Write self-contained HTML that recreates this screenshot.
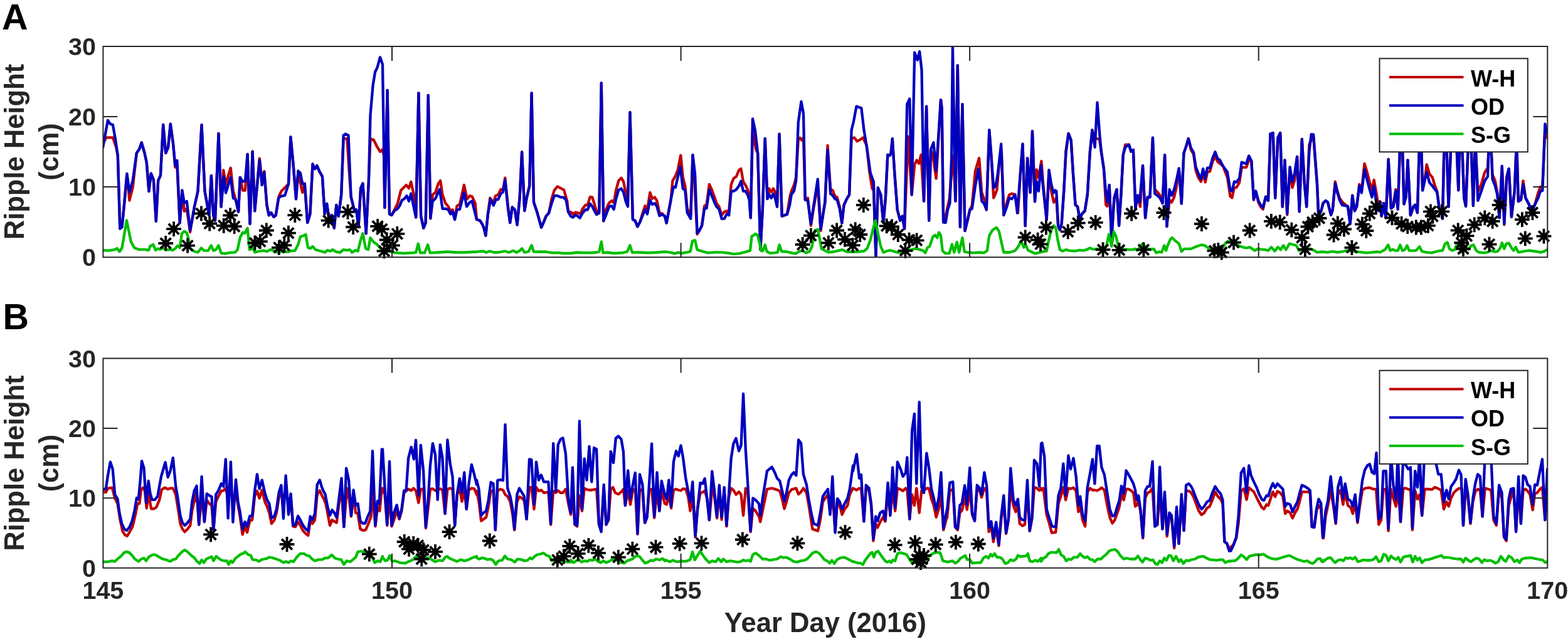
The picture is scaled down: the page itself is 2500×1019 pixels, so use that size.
<!DOCTYPE html>
<html><head><meta charset="utf-8"><title>Ripple Height</title>
<style>html,body{margin:0;padding:0;background:#fff;width:2500px;height:1019px;overflow:hidden}svg{display:block}</style>
</head><body>
<svg width="2500" height="1019" viewBox="0 0 2500 1019" font-family="'Liberation Sans', Arial, Helvetica, sans-serif" font-weight="bold">
<rect width="2500" height="1019" fill="#fff"/>
<clipPath id="cA"><rect x="164.4" y="74.0" width="2302.9" height="336.2"/></clipPath>
<g clip-path="url(#cA)" fill="none" stroke-width="4.3" stroke-linejoin="round" stroke-linecap="round">
<polyline stroke="#bf0000" points="164.0,229.5 169.3,219.4 179.9,219.4 185.2,234.8 187.8,248.1 191.3,364.7 194.5,362.0 198.4,322.3 202.4,277.2 206.4,319.6 211.7,298.4 217.8,244.1 222.3,237.5 225.7,227.4 230.2,242.8 233.7,258.7 237.4,305.0 240.8,276.7 244.8,286.5 248.8,352.8 252.2,287.8 255.9,279.9 260.2,199.0 264.2,244.1 268.1,234.8 271.8,197.7 276.1,229.5 279.3,266.6 282.4,266.6 286.7,355.4 290.4,303.7 293.8,336.9 297.8,332.9 303.1,370.0 310.0,329.6 315.5,304.8 321.5,199.1 326.5,304.8 333.4,343.3 336.9,280.1 340.2,343.3 343.0,351.5 348.5,212.8 352.6,329.6 356.2,271.3 360.0,293.8 367.7,267.7 371.8,304.8 375.9,318.6 380.1,337.8 382.8,282.9 386.9,303.5 391.0,303.5 394.6,245.8 398.5,357.0 402.6,241.6 406.2,336.4 413.8,252.6 417.7,288.4 421.3,273.2 425.4,326.8 428.7,343.3 432.3,339.2 436.4,346.0 439.7,343.3 444.6,313.1 448.7,304.8 454.2,299.3 460.0,293.3 463.4,218.4 467.6,262.4 472.0,317.3 475.5,272.7 477.2,284.7 482.3,307.0 485.8,293.3 490.2,355.1 494.4,341.4 498.5,261.7 501.9,269.2 505.3,264.1 509.8,274.4 513.9,281.3 517.7,341.4 521.1,324.9 524.6,348.3 528.7,343.1 532.8,363.7 536.3,327.0 539.7,344.8 544.2,310.5 547.6,221.2 553.4,221.2 556.9,276.1 559.6,313.9 564.8,334.5 568.2,334.5 571.6,362.0 575.1,300.2 578.5,292.6 583.7,372.3 587.8,289.9 590.5,221.2 595.7,222.9 600.8,233.2 606.0,241.8 610.0,238.3 612.1,248.6 613.4,331.1 617.6,143.9 621.0,341.4 624.4,343.1 628.9,334.5 634.0,324.2 639.2,303.6 644.4,298.4 647.8,295.0 651.9,300.2 655.3,289.9 659.8,310.5 663.2,346.5 667.4,148.3 671.1,344.8 675.3,363.7 678.7,355.1 682.8,151.8 686.3,348.3 689.7,310.5 694.2,307.0 698.6,293.3 702.1,288.1 705.5,310.5 710.3,324.2 714.8,329.4 718.2,336.2 721.6,334.5 725.1,350.0 728.5,328.3 733.0,325.9 739.9,295.0 744.7,317.3 749.1,312.2 752.6,313.2 757.7,324.2 760.0,350.0 765.2,351.7 769.6,358.6 772.0,365.4 774.4,375.7 777.9,341.4 781.3,315.6 785.8,324.2 790.2,312.2 794.4,310.5 798.5,301.9 801.9,303.6 805.3,283.7 809.8,327.6 813.2,355.1 816.7,330.4 820.8,334.5 824.6,358.6 828.7,313.9 832.1,242.4 836.3,336.2 839.7,315.6 844.2,296.7 847.6,148.3 851.0,322.5 856.2,337.9 863.1,362.7 867.2,353.4 870.6,344.8 875.1,339.7 879.5,317.3 883.7,303.6 888.8,297.4 894.0,300.2 899.1,302.9 904.3,320.8 906.0,337.9 910.0,337.9 913.4,341.4 917.6,338.6 922.0,339.7 925.5,341.4 928.9,332.8 933.4,327.0 936.8,327.0 940.9,313.9 944.4,314.6 947.8,325.9 951.2,337.3 955.3,336.2 958.8,132.5 962.2,352.4 966.7,332.8 971.1,323.5 975.3,320.1 978.7,323.5 982.1,303.6 986.3,288.1 990.7,283.7 994.2,289.9 997.6,307.0 1001.0,320.8 1004.5,179.2 1008.9,350.0 1012.4,351.7 1016.5,361.3 1020.6,353.4 1024.1,341.4 1028.5,328.3 1032.0,334.5 1036.4,307.0 1039.9,316.7 1044.0,314.6 1047.4,320.1 1051.5,339.7 1056.0,340.7 1060.0,344.7 1062.7,355.7 1066.0,337.8 1069.6,318.6 1072.4,288.4 1076.5,281.5 1080.6,271.3 1085.3,247.7 1088.8,282.9 1092.4,296.6 1095.7,332.3 1101.2,344.7 1104.5,247.1 1106.7,278.7 1111.6,373.5 1114.9,368.0 1119.1,359.8 1123.2,328.2 1126.5,326.8 1130.9,293.8 1134.7,302.1 1139.7,315.8 1142.4,324.1 1146.5,329.6 1150.7,343.3 1154.8,337.8 1158.9,336.4 1162.2,337.8 1165.8,293.8 1169.9,284.2 1174.0,281.5 1178.1,271.3 1181.4,269.1 1185.0,289.7 1188.6,295.2 1191.9,302.1 1194.6,311.7 1196.8,347.4 1200.0,208.7 1202.7,223.8 1205.5,238.9 1208.2,244.4 1212.4,398.2 1215.9,332.3 1219.8,221.0 1223.4,317.2 1226.1,300.7 1229.7,306.2 1233.0,300.7 1235.7,306.2 1239.0,329.6 1242.6,213.6 1246.7,344.7 1250.8,343.3 1254.9,341.9 1259.1,315.8 1261.8,304.8 1265.9,295.2 1269.2,282.9 1272.8,222.4 1275.5,219.7 1278.3,223.8 1281.0,219.7 1283.8,318.6 1287.9,315.8 1292.9,359.8 1297.5,329.6 1302.2,304.8 1303.8,293.8 1308.5,368.0 1312.6,337.8 1315.4,322.7 1319.5,232.0 1324.2,302.1 1327.7,303.5 1331.3,313.1 1334.6,314.5 1338.7,329.6 1342.3,355.7 1345.6,326.8 1350.0,317.3 1354.1,310.5 1357.6,221.2 1362.0,219.4 1366.5,225.3 1371.3,222.9 1375.8,219.4 1381.6,231.5 1386.1,272.7 1390.5,300.2 1392.9,303.6 1396.4,408.4 1399.8,299.5 1404.3,310.5 1408.4,355.1 1411.8,317.3 1415.3,246.9 1418.7,247.9 1420.4,245.2 1422.8,221.2 1426.3,276.1 1430.7,334.5 1435.2,351.7 1438.6,344.8 1442.1,364.7 1447.9,217.7 1453.7,310.5 1458.2,262.4 1461.6,255.5 1465.1,260.7 1468.5,246.9 1473.0,320.8 1477.1,169.6 1481.2,351.7 1484.0,238.3 1487.4,248.6 1492.6,284.7 1500.0,159.3 1501.7,173.1 1504.1,354.4 1507.6,344.8 1513.7,317.3 1517.2,276.1 1518.9,248.6 1521.3,276.1 1523.4,320.8 1526.8,104.4 1530.9,362.0 1534.4,166.2 1538.5,368.2 1542.9,350.0 1546.4,334.5 1549.8,327.6 1555.0,272.7 1561.1,252.1 1565.3,307.0 1570.4,320.8 1572.8,334.5 1577.3,207.4 1580.7,252.1 1584.2,315.6 1589.3,303.6 1593.4,257.2 1596.9,241.8 1600.3,343.1 1604.8,324.2 1609.2,310.5 1613.4,308.7 1618.5,310.5 1623.0,339.7 1626.4,283.0 1630.5,229.7 1634.7,360.3 1638.1,252.1 1642.6,307.0 1646.0,209.1 1650.0,321.3 1652.7,270.5 1656.0,282.9 1660.4,256.8 1663.2,293.8 1668.7,350.2 1672.5,271.3 1676.1,304.8 1680.2,322.7 1682.4,318.6 1684.3,315.8 1687.1,359.8 1689.8,366.6 1692.6,357.0 1696.2,304.8 1699.5,241.6 1703.6,212.8 1707.7,223.8 1711.0,277.4 1714.6,326.8 1718.1,329.6 1721.4,348.8 1725.5,340.5 1729.7,336.4 1733.8,310.3 1737.9,241.6 1741.5,207.3 1744.8,219.7 1749.5,221.0 1753.0,222.4 1755.8,241.6 1759.9,269.1 1763.2,326.8 1765.4,329.0 1768.7,295.2 1772.3,381.8 1776.4,315.8 1780.5,302.1 1784.1,359.8 1787.4,310.3 1790.7,247.1 1794.2,230.7 1800.0,230.7 1803.3,241.6 1806.9,238.9 1810.4,332.3 1813.7,311.7 1817.9,329.6 1822.0,264.2 1826.1,347.4 1829.7,314.5 1833.5,314.5 1837.9,219.7 1841.2,302.1 1845.3,306.2 1850.8,313.1 1853.6,324.1 1857.1,247.1 1860.4,361.2 1864.6,318.6 1868.1,322.7 1872.0,314.5 1875.5,299.3 1879.7,268.6 1883.8,324.6 1887.4,244.4 1891.2,233.4 1894.8,221.0 1898.9,238.9 1903.0,245.8 1906.6,271.9 1910.4,282.9 1914.8,289.7 1918.1,277.4 1921.7,290.5 1925.0,274.6 1929.1,273.2 1933.2,258.1 1937.4,249.9 1941.5,258.1 1945.1,260.9 1950.0,265.0 1956.9,282.9 1961.5,313.1 1964.3,315.3 1967.9,299.3 1971.4,298.8 1976.1,291.1 1979.7,266.9 1984.3,266.9 1987.1,266.9 1991.2,255.4 1995.3,256.8 1998.9,318.6 2002.2,304.8 2006.3,322.7 2009.9,329.6 2013.7,333.7 2018.1,313.6 2022.0,319.9 2025.5,213.6 2029.7,212.0 2033.2,315.8 2037.4,219.7 2041.2,212.0 2044.8,329.6 2048.4,255.4 2052.2,342.7 2056.6,269.1 2060.4,299.3 2064.0,288.4 2068.1,249.9 2071.7,337.3 2075.8,221.9 2079.7,291.1 2083.2,329.6 2087.4,230.7 2090.7,222.4 2094.2,219.7 2100.0,293.8 2102.2,343.3 2106.0,337.8 2109.6,324.1 2113.7,319.9 2117.0,322.7 2122.0,342.7 2124.7,335.1 2128.8,289.7 2131.6,302.1 2135.7,315.8 2140.7,322.7 2145.3,326.8 2148.9,329.0 2152.7,357.0 2156.3,311.7 2159.9,336.4 2163.2,329.0 2167.3,293.8 2170.9,304.8 2175.5,260.9 2179.7,274.6 2183.8,291.1 2187.4,302.1 2190.7,287.0 2194.8,310.3 2198.4,332.3 2200.0,321.3 2202.7,344.7 2206.0,324.1 2209.6,347.4 2213.7,254.0 2217.9,332.3 2221.4,329.6 2225.3,302.1 2228.8,333.7 2232.4,222.4 2235.7,222.4 2238.5,325.4 2241.8,313.1 2244.5,255.4 2248.9,343.3 2253.6,329.6 2256.3,326.8 2259.9,339.2 2263.2,222.4 2265.9,222.4 2268.1,303.5 2271.4,288.4 2274.7,262.3 2279.1,277.4 2283.8,282.9 2287.9,296.6 2291.2,304.8 2294.8,332.3 2298.9,342.7 2300.0,348.7 2302.7,222.4 2306.0,222.4 2309.6,329.5 2313.7,222.4 2317.9,222.4 2322.0,222.4 2325.3,303.4 2327.5,222.4 2330.8,222.4 2334.3,315.8 2337.1,329.0 2341.2,222.4 2345.3,222.4 2348.9,328.1 2352.2,222.4 2356.3,306.2 2361.8,293.8 2367.3,274.6 2372.0,267.7 2374.2,222.4 2376.9,222.4 2379.6,278.7 2383.8,288.3 2387.3,307.5 2390.6,347.4 2394.8,265.0 2398.3,358.3 2402.2,282.8 2405.7,269.1 2409.9,346.0 2414.8,304.8 2418.1,222.4 2420.8,321.3 2425.0,318.5 2428.5,288.3 2432.4,315.8 2436.8,324.0 2442.8,336.4 2446.9,326.8 2452.4,307.5 2456.0,297.9 2459.3,297.9 2463.4,205.9 2466.2,219.6"/>
<polyline stroke="#0000bf" points="164.0,235.3 171.9,191.9 175.9,197.7 179.9,199.0 183.9,221.6 187.8,248.1 191.3,364.7 194.5,362.0 198.4,322.3 202.4,277.2 206.4,306.4 211.7,287.8 217.8,244.1 222.3,237.5 225.7,227.4 230.2,242.8 233.7,258.7 237.4,305.0 240.8,276.7 244.8,286.5 248.8,352.8 252.2,287.8 255.9,279.9 260.2,199.0 264.2,244.1 268.1,234.8 271.8,197.7 276.1,229.5 279.3,264.0 282.4,256.0 286.7,355.4 290.4,303.7 293.8,323.6 297.8,321.0 303.1,367.3 310.0,329.6 315.5,304.8 321.5,199.1 326.5,304.8 333.4,343.3 336.9,280.1 340.2,343.3 343.0,351.5 348.5,212.8 352.6,329.6 356.7,281.5 360.0,307.6 367.7,282.9 371.8,315.8 375.9,318.6 380.1,337.8 382.8,282.9 386.9,289.7 391.0,288.4 394.6,245.8 398.5,357.0 402.6,241.6 406.2,336.4 413.8,255.4 417.7,295.2 421.3,274.6 425.4,326.8 428.7,343.3 432.3,339.2 436.4,346.0 439.7,343.3 444.1,315.8 447.4,313.1 454.2,311.7 460.0,293.3 463.4,218.4 467.6,262.4 472.0,317.3 475.5,272.7 478.9,276.1 482.3,293.3 485.8,292.6 490.2,355.1 494.4,341.4 498.5,261.7 501.9,269.2 505.3,264.1 509.8,274.4 513.9,281.3 517.7,341.4 521.1,324.9 524.6,348.3 528.7,343.1 532.8,363.7 536.3,327.0 539.7,344.8 544.2,310.5 547.6,216.0 551.0,213.6 555.5,216.0 559.6,313.9 564.8,334.5 568.2,334.5 571.6,362.0 575.1,300.2 578.5,292.6 583.7,372.3 587.8,289.9 590.5,183.4 594.7,135.3 598.1,114.7 601.5,107.8 606.0,91.3 610.0,102.6 613.4,331.1 617.6,143.9 621.0,341.4 624.4,343.1 628.9,336.2 634.0,332.8 637.5,327.6 640.9,319.1 644.4,317.3 648.5,312.2 651.9,320.8 655.3,308.7 659.8,331.1 663.2,346.5 667.4,148.3 671.1,344.8 675.3,363.7 678.7,355.1 682.8,151.8 686.3,348.3 689.7,320.8 694.2,316.7 701.0,301.9 705.5,332.8 710.3,332.8 714.8,334.5 718.2,341.4 721.6,337.9 725.1,350.0 728.5,334.5 733.0,333.8 739.9,307.0 744.0,329.4 749.1,322.5 752.6,320.8 760.0,350.0 765.2,351.7 769.6,358.6 772.0,365.4 774.4,375.7 777.9,341.4 782.3,317.3 786.8,327.6 790.9,318.0 794.4,318.0 798.5,308.7 801.9,306.3 805.3,287.1 809.8,331.1 813.2,355.1 816.7,330.4 820.8,334.5 824.6,358.6 828.7,313.9 832.1,242.4 836.3,336.2 839.7,315.6 844.2,296.7 847.6,148.3 851.0,322.5 856.2,337.9 863.1,362.7 867.2,353.4 870.6,344.8 875.1,339.7 879.5,324.2 883.7,312.2 888.8,312.2 894.0,314.6 898.1,314.6 902.6,319.1 906.0,337.9 910.0,344.8 913.4,346.5 917.6,343.1 920.3,344.1 924.4,347.6 928.9,339.7 933.4,334.5 936.8,334.5 940.9,324.9 944.4,329.4 947.8,336.2 951.2,342.1 955.3,339.7 958.8,132.5 962.2,352.4 966.7,341.4 971.1,329.4 975.3,328.3 978.7,333.8 982.1,317.3 986.3,302.9 990.7,300.8 994.2,307.0 997.6,320.8 1001.0,329.4 1004.5,179.2 1008.9,350.0 1012.4,351.7 1016.5,361.3 1020.6,353.4 1024.1,344.8 1028.5,334.5 1032.0,341.4 1036.4,319.1 1039.9,325.9 1044.0,324.2 1047.4,329.4 1051.5,344.1 1056.0,342.1 1060.0,344.7 1062.7,355.7 1066.0,337.8 1069.6,318.6 1073.7,298.0 1077.0,298.8 1080.6,282.9 1084.7,265.8 1088.8,300.7 1092.4,303.5 1095.7,339.2 1101.2,348.8 1104.5,247.1 1108.1,277.4 1111.6,372.1 1114.9,368.0 1119.1,359.8 1123.2,332.3 1126.5,332.3 1130.9,302.6 1134.7,311.7 1139.7,324.1 1142.4,329.6 1146.5,333.7 1150.7,348.8 1154.8,348.8 1158.9,341.1 1162.2,343.3 1165.8,304.8 1169.9,304.8 1174.0,302.1 1178.1,296.6 1181.4,288.9 1185.0,304.8 1188.6,304.8 1191.9,310.3 1194.6,318.6 1196.8,347.4 1200.0,189.5 1204.1,208.7 1208.2,244.4 1212.4,398.2 1215.9,332.3 1219.8,221.0 1223.4,317.2 1226.1,309.8 1229.7,315.8 1233.0,309.0 1235.7,315.8 1239.0,329.6 1242.6,213.6 1246.7,344.7 1250.8,343.3 1254.9,341.9 1259.1,326.8 1261.8,310.3 1265.9,304.8 1269.2,288.4 1272.8,194.9 1277.5,162.0 1281.0,181.2 1283.8,318.6 1287.9,319.9 1292.9,357.0 1297.5,326.8 1301.1,303.5 1303.8,285.6 1308.5,365.3 1311.3,348.8 1315.4,322.7 1319.5,238.9 1324.2,309.0 1327.7,311.7 1331.3,317.2 1334.6,318.6 1338.7,332.3 1342.3,355.7 1345.6,326.8 1350.0,317.3 1354.1,310.5 1357.6,207.4 1361.0,193.7 1365.5,169.6 1369.9,171.3 1373.4,172.4 1377.5,207.4 1382.6,238.3 1387.8,276.1 1392.9,289.9 1396.4,408.4 1399.8,299.5 1404.3,310.5 1408.4,355.1 1411.8,317.3 1415.3,246.9 1418.7,247.9 1420.4,245.2 1422.8,221.2 1426.3,276.1 1430.7,334.5 1435.2,351.7 1438.6,344.8 1442.1,364.7 1446.2,166.2 1450.3,157.6 1453.7,310.5 1458.2,83.7 1462.7,95.8 1466.1,82.0 1469.5,111.2 1473.0,320.8 1477.1,169.6 1481.2,351.7 1484.0,238.3 1488.4,227.3 1492.6,272.7 1500.0,159.3 1501.7,173.1 1504.1,354.4 1507.6,355.1 1511.0,334.5 1514.4,324.2 1517.2,248.6 1518.9,73.4 1523.4,320.8 1526.8,104.4 1530.9,362.0 1534.4,166.2 1538.5,368.2 1542.9,350.0 1546.4,334.5 1549.8,332.8 1555.0,296.7 1560.1,269.2 1565.3,320.8 1568.7,324.2 1572.8,334.5 1577.3,207.4 1580.7,252.1 1584.2,299.5 1587.6,296.7 1591.0,276.1 1596.2,229.7 1600.3,343.1 1604.8,331.1 1609.2,315.6 1613.4,317.3 1618.5,310.5 1622.0,339.7 1626.4,283.0 1630.5,229.7 1634.7,360.3 1638.1,252.1 1642.6,307.0 1646.0,209.1 1650.0,321.3 1652.7,289.7 1656.0,304.8 1659.6,263.6 1663.2,299.3 1668.7,350.2 1672.5,271.3 1676.1,293.8 1679.7,307.6 1682.4,303.5 1684.3,304.8 1687.1,359.8 1689.8,366.6 1692.6,357.0 1696.2,304.8 1699.5,241.6 1703.6,212.8 1707.7,223.8 1711.0,277.4 1714.6,326.8 1718.1,329.6 1721.4,348.8 1725.5,340.5 1729.7,336.4 1733.8,310.3 1737.9,241.6 1741.5,207.3 1745.6,234.8 1749.5,163.4 1753.0,211.4 1755.8,241.6 1759.9,269.1 1763.2,307.6 1765.4,321.3 1768.7,295.2 1772.3,381.8 1776.4,315.8 1780.5,302.1 1784.1,359.8 1787.4,310.3 1790.7,247.1 1794.2,234.8 1800.0,230.7 1803.3,241.6 1806.9,238.9 1810.4,332.3 1813.7,311.7 1817.0,322.7 1822.0,264.2 1826.1,347.4 1829.7,314.5 1833.5,314.5 1837.9,219.7 1841.2,309.0 1845.3,311.7 1849.5,315.8 1853.6,324.1 1857.1,247.1 1860.4,361.2 1864.6,302.1 1868.1,311.7 1872.0,302.1 1875.5,288.4 1879.7,268.6 1883.8,324.6 1887.4,244.4 1891.2,233.4 1894.8,221.0 1898.9,236.2 1903.0,243.0 1906.6,266.4 1910.4,276.0 1914.8,285.6 1918.1,269.1 1921.7,284.2 1925.0,267.7 1929.1,267.7 1933.2,252.6 1937.4,242.2 1941.5,253.2 1945.1,255.4 1950.0,265.0 1956.9,274.6 1961.5,303.5 1964.3,304.8 1967.9,289.7 1971.4,290.5 1976.1,284.2 1979.7,258.7 1984.3,260.3 1987.1,260.9 1991.2,248.5 1995.3,256.8 1998.9,318.6 2002.2,304.8 2006.3,319.9 2009.9,326.8 2013.7,330.9 2018.1,313.6 2022.0,319.9 2025.5,213.6 2029.7,212.0 2033.2,315.8 2037.4,219.7 2041.2,212.0 2044.8,329.6 2048.4,255.4 2052.2,340.5 2056.6,266.4 2060.4,289.7 2064.0,277.4 2068.1,249.9 2071.7,337.3 2075.8,221.9 2079.7,291.1 2083.2,329.6 2087.4,241.6 2090.7,214.2 2094.2,214.7 2100.0,293.8 2102.2,343.3 2106.0,337.8 2109.6,324.1 2113.7,319.9 2117.0,322.7 2122.0,342.7 2124.7,335.1 2128.8,292.5 2131.6,304.8 2135.7,318.6 2139.8,326.8 2145.3,328.2 2148.9,329.0 2152.7,357.0 2156.3,311.7 2159.9,336.4 2163.2,329.0 2167.3,296.6 2170.9,307.6 2175.5,270.5 2179.7,287.0 2183.8,302.1 2187.4,314.5 2190.7,296.6 2194.8,326.8 2198.4,336.4 2200.0,321.3 2202.7,344.7 2206.0,324.1 2209.6,347.4 2213.7,254.0 2217.9,332.3 2221.4,329.6 2225.3,304.8 2228.8,333.7 2232.4,222.4 2235.7,222.4 2238.5,325.4 2241.8,313.1 2244.5,255.4 2248.9,343.3 2253.6,329.6 2256.3,326.8 2259.9,339.2 2263.2,222.4 2265.9,222.4 2268.1,303.5 2271.4,288.4 2274.7,274.6 2279.1,291.1 2283.8,296.6 2287.9,302.1 2291.2,306.2 2294.8,332.3 2298.9,342.7 2300.0,348.7 2302.7,222.4 2306.0,222.4 2309.6,329.5 2313.7,222.4 2317.9,222.4 2322.0,222.4 2325.3,303.4 2327.5,222.4 2330.8,222.4 2334.3,315.8 2337.1,329.0 2341.2,222.4 2345.3,222.4 2348.9,328.1 2352.2,222.4 2356.3,319.9 2361.8,304.8 2367.3,288.3 2372.0,281.4 2374.2,222.4 2376.9,222.4 2379.6,285.6 2383.8,296.6 2387.3,310.3 2390.6,347.4 2394.8,265.0 2398.3,357.0 2402.2,282.8 2405.7,269.1 2409.9,346.0 2414.8,304.8 2418.1,222.4 2420.8,321.3 2425.0,318.5 2428.5,293.8 2432.4,315.8 2436.8,324.0 2442.8,336.4 2446.9,326.8 2452.4,315.8 2456.0,304.8 2459.3,304.2 2463.4,197.7 2466.2,211.4"/>
<polyline stroke="#00bf00" points="164.0,399.1 173.3,399.7 183.9,397.8 186.5,396.0 190.5,401.3 194.5,395.2 198.4,372.6 201.9,351.4 205.1,367.3 209.0,385.9 214.3,395.2 221.0,397.8 231.6,397.8 236.9,399.1 239.5,392.5 244.3,389.9 248.0,399.1 251.4,396.5 255.4,397.8 259.4,395.2 264.7,398.6 271.3,397.8 275.3,399.1 279.3,396.5 283.2,391.7 286.7,395.2 289.9,372.6 293.8,368.7 297.8,371.3 300.5,380.6 303.1,396.5 310.0,401.0 315.5,402.4 321.0,395.5 325.1,399.6 332.0,399.6 336.6,391.4 340.2,399.6 344.3,398.2 348.5,391.4 352.6,403.7 359.5,404.3 364.9,403.2 374.6,402.4 378.7,398.2 382.8,379.0 386.9,370.8 390.2,372.1 394.6,363.9 397.9,398.2 403.4,395.5 406.2,402.4 411.6,401.0 419.9,399.6 425.4,401.0 430.9,398.2 436.4,399.6 441.9,402.4 447.4,401.0 460.0,401.5 465.2,399.8 470.3,399.8 475.5,389.5 478.9,377.5 484.0,375.7 487.5,374.0 490.9,394.6 494.4,396.3 498.5,392.9 502.9,398.1 511.5,400.5 518.4,402.5 521.8,399.1 527.0,400.5 530.4,398.1 535.6,401.5 542.4,402.5 547.6,398.1 552.8,399.1 557.9,398.1 561.3,402.5 566.5,399.1 570.6,400.5 575.1,382.6 578.5,372.3 583.0,396.3 587.1,398.1 590.5,379.2 595.7,386.0 600.8,389.5 610.0,399.8 616.9,400.5 625.5,401.5 630.6,403.2 644.4,403.9 658.1,403.2 663.2,402.5 666.7,388.8 670.1,403.2 677.0,403.2 682.1,390.2 685.6,403.2 699.3,402.5 713.1,401.5 726.8,402.5 740.5,402.5 760.0,401.5 770.3,400.5 775.5,402.5 780.6,400.5 787.5,402.5 794.4,402.5 804.7,400.5 811.5,402.5 818.4,399.8 823.6,402.5 828.7,399.8 832.1,396.3 836.3,402.5 842.4,401.5 847.6,391.2 851.0,401.5 859.6,401.5 869.9,401.5 880.2,403.2 890.5,403.2 897.4,403.9 910.0,403.9 920.3,402.5 930.6,403.2 940.9,403.2 951.2,402.5 955.3,401.5 958.8,385.4 961.5,403.2 968.4,402.5 978.7,403.9 992.4,403.2 1000.0,401.5 1004.5,391.2 1007.9,402.5 1019.9,402.5 1033.7,403.2 1047.4,402.5 1060.0,401.5 1068.2,402.4 1076.5,404.3 1082.0,402.4 1086.1,404.3 1090.2,403.2 1095.7,402.4 1100.7,401.0 1104.0,384.5 1108.1,383.1 1111.6,398.2 1120.4,401.0 1128.7,403.2 1139.7,402.4 1150.7,402.4 1161.6,403.7 1169.9,405.1 1178.1,404.3 1186.4,402.4 1196.0,399.6 1198.7,376.3 1200.0,376.3 1204.1,373.0 1207.7,374.9 1211.0,387.3 1213.2,399.6 1215.9,400.4 1219.8,390.5 1222.5,401.0 1227.5,403.7 1235.7,403.2 1239.8,402.4 1242.6,390.5 1246.2,401.0 1254.9,401.5 1263.2,403.7 1268.7,404.3 1274.2,401.0 1279.7,399.6 1285.2,403.2 1290.7,401.0 1294.8,392.7 1298.9,367.5 1303.8,365.8 1307.1,381.8 1309.9,396.9 1315.4,399.6 1320.9,402.4 1329.1,401.5 1337.4,399.6 1342.9,398.2 1350.0,401.5 1356.9,401.5 1367.2,401.5 1377.5,400.5 1382.6,396.3 1387.8,382.6 1391.9,365.4 1395.7,351.7 1399.8,372.3 1404.3,392.9 1408.4,402.5 1413.6,400.5 1418.7,399.1 1423.9,400.5 1430.7,402.5 1439.3,402.5 1446.2,399.8 1453.1,398.1 1459.9,396.3 1466.8,398.1 1472.0,399.8 1475.4,403.2 1478.8,394.6 1482.3,392.9 1487.4,377.5 1490.8,375.0 1494.3,379.2 1497.0,370.6 1500.0,375.7 1502.7,399.8 1506.9,403.9 1513.7,403.9 1517.9,389.5 1521.3,402.5 1525.8,386.0 1529.2,402.5 1534.4,379.2 1537.8,401.5 1542.9,402.5 1551.5,403.2 1561.8,402.5 1568.7,403.2 1573.9,399.8 1577.3,375.7 1582.4,367.1 1588.6,362.7 1592.8,368.9 1596.2,384.3 1600.3,402.5 1609.9,402.5 1618.5,399.8 1623.7,392.9 1627.8,384.3 1632.3,394.6 1635.7,391.2 1639.1,399.1 1644.3,401.5 1650.0,404.3 1655.5,403.2 1661.0,401.5 1668.7,400.4 1672.5,381.8 1676.1,366.6 1680.2,359.8 1683.5,363.9 1686.3,381.8 1689.8,398.2 1694.0,400.4 1699.5,398.2 1704.9,399.6 1713.2,400.4 1721.4,398.8 1726.9,399.6 1732.4,398.2 1737.9,395.5 1743.4,397.7 1748.9,396.9 1757.1,396.9 1764.0,392.7 1768.1,373.5 1772.3,392.7 1775.8,369.4 1779.1,376.3 1783.2,392.7 1787.4,396.9 1800.0,398.2 1805.5,398.2 1809.6,396.9 1813.7,399.6 1817.9,392.7 1822.0,388.6 1826.1,394.1 1830.2,396.9 1835.7,397.7 1839.8,396.9 1843.4,403.2 1848.1,401.5 1852.2,402.4 1856.3,391.4 1859.1,399.6 1861.8,391.4 1865.9,381.8 1868.7,379.0 1872.8,383.1 1879.7,388.6 1883.8,401.0 1887.9,396.9 1893.4,396.9 1898.9,396.9 1907.1,393.3 1915.4,390.5 1920.9,391.4 1926.4,395.5 1931.9,398.2 1937.4,396.9 1950.0,394.1 1954.1,387.3 1958.2,384.5 1963.7,385.9 1969.2,388.6 1976.1,392.2 1981.6,394.1 1987.1,395.5 1992.6,394.1 1996.7,396.9 2000.8,399.6 2004.9,396.9 2010.4,397.7 2017.3,398.2 2022.0,399.6 2026.9,394.1 2032.4,400.4 2037.4,394.1 2042.0,398.2 2046.2,391.4 2050.3,398.2 2055.8,388.6 2061.3,390.0 2066.8,391.4 2070.9,399.6 2076.4,398.2 2081.9,396.9 2090.1,396.9 2095.6,399.6 2100.0,402.4 2108.2,401.5 2116.5,402.4 2124.7,401.0 2133.0,402.4 2141.2,401.0 2146.7,399.6 2154.9,400.4 2163.2,401.5 2171.4,402.4 2179.7,403.2 2187.9,402.4 2196.2,401.5 2200.0,402.4 2204.1,400.4 2208.2,398.2 2213.2,390.5 2216.5,399.6 2220.6,397.7 2224.7,399.6 2228.8,399.6 2232.4,390.5 2235.7,399.6 2239.8,398.2 2243.4,391.4 2246.7,399.6 2252.2,399.6 2257.7,399.6 2263.2,393.3 2267.3,401.0 2274.2,402.4 2282.4,403.2 2290.7,401.0 2297.5,399.6 2300.0,399.5 2304.1,388.6 2307.7,386.6 2311.0,396.8 2315.1,399.5 2319.2,398.2 2322.0,391.3 2326.1,395.4 2330.2,402.3 2335.7,394.1 2341.2,397.6 2345.3,392.1 2349.4,390.5 2353.6,399.5 2357.7,402.3 2365.9,403.1 2371.4,402.3 2376.9,399.5 2382.4,401.5 2387.9,400.9 2392.0,395.4 2394.8,387.2 2398.3,396.8 2401.6,388.6 2405.7,387.7 2409.9,395.4 2413.2,399.5 2416.7,394.1 2420.8,402.3 2429.1,400.9 2437.3,399.5 2448.3,400.9 2456.6,402.3 2462.0,400.9 2466.2,398.2"/>
</g>
<g stroke="#000" stroke-width="3.8" fill="none">
<path d="M590.2,360.8H614.0M602.1,348.9V372.7M593.7,352.4L610.5,369.2M593.7,369.2L610.5,352.4"/>
<path d="M596.9,365.4H620.7M608.8,353.5V377.3M600.4,357.0L617.2,373.8M600.4,373.8L617.2,357.0"/>
<path d="M621.4,372.9H645.2M633.3,361.0V384.8M624.9,364.5L641.7,381.3M624.9,381.3L641.7,364.5"/>
<path d="M613.9,391.3H637.7M625.8,379.4V403.2M617.4,382.9L634.2,399.7M617.4,399.7L634.2,382.9"/>
<path d="M600.6,400.4H624.4M612.5,388.5V412.3M604.1,392.0L620.9,408.8M604.1,408.8L620.9,392.0"/>
<path d="M604.8,382.5H628.6M616.7,370.6V394.4M608.3,374.1L625.1,390.9M608.3,390.9L625.1,374.1"/>
<path d="M1642.7,382.7H1666.5M1654.6,370.8V394.6M1646.2,374.3L1663.0,391.1M1646.2,391.1L1663.0,374.3"/>
<path d="M1647.1,389.3H1670.9M1659.0,377.4V401.2M1650.6,380.9L1667.4,397.7M1650.6,397.7L1667.4,380.9"/>
<path d="M1924.5,399.9H1948.3M1936.4,388.0V411.8M1928.0,391.5L1944.8,408.3M1928.0,408.3L1944.8,391.5"/>
<path d="M1930.5,398.9H1954.3M1942.4,387.0V410.8M1934.0,390.5L1950.8,407.3M1934.0,407.3L1950.8,390.5"/>
<path d="M1935.9,402.6H1959.7M1947.8,390.7V414.5M1939.4,394.2L1956.2,411.0M1939.4,411.0L1956.2,394.2"/>
<path d="M2091.6,348.0H2115.4M2103.5,336.1V359.9M2095.1,339.6L2111.9,356.4M2095.1,356.4L2111.9,339.6"/>
<path d="M2080.8,354.2H2104.6M2092.7,342.3V366.1M2084.3,345.8L2101.1,362.6M2084.3,362.6L2101.1,345.8"/>
<path d="M2073.5,361.5H2097.3M2085.4,349.6V373.4M2077.0,353.1L2093.8,369.9M2077.0,369.9L2093.8,353.1"/>
<path d="M2063.9,379.0H2087.7M2075.8,367.1V390.9M2067.4,370.6L2084.2,387.4M2067.4,387.4L2084.2,370.6"/>
<path d="M2069.0,397.6H2092.8M2080.9,385.7V409.5M2072.5,389.2L2089.3,406.0M2072.5,406.0L2089.3,389.2"/>
<path d="M2120.9,356.4H2144.7M2132.8,344.5V368.3M2124.4,348.0L2141.2,364.8M2124.4,364.8L2141.2,348.0"/>
<path d="M2131.1,365.5H2154.9M2143.0,353.6V377.4M2134.6,357.1L2151.4,373.9M2134.6,373.9L2151.4,357.1"/>
<path d="M2114.7,374.5H2138.5M2126.6,362.6V386.4M2118.2,366.1L2135.0,382.9M2118.2,382.9L2135.0,366.1"/>
<path d="M2143.5,394.8H2167.3M2155.4,382.9V406.7M2147.0,386.4L2163.8,403.2M2147.0,403.2L2163.8,386.4"/>
<path d="M2287.3,337.3H2311.1M2299.2,325.4V349.2M2290.8,328.9L2307.6,345.7M2290.8,345.7L2307.6,328.9"/>
<path d="M394.5,387.5H418.3M406.4,375.6V399.4M398.0,379.1L414.8,395.9M398.0,395.9L414.8,379.1"/>
<path d="M402.9,385.1H426.7M414.8,373.2V397.0M406.4,376.7L423.2,393.5M406.4,393.5L423.2,376.7"/>
<path d="M433.0,394.8H456.8M444.9,382.9V406.7M436.5,386.4L453.3,403.2M436.5,403.2L453.3,386.4"/>
<path d="M441.4,391.2H465.2M453.3,379.3V403.1M444.9,382.8L461.7,399.6M444.9,399.6L461.7,382.8"/>
<path d="M448.0,371.7H471.8M459.9,359.8V383.6M451.5,363.3L468.3,380.1M451.5,380.1L468.3,363.3"/>
<path d="M2272.3,344.9H2296.1M2284.2,333.0V356.8M2275.8,336.5L2292.6,353.3M2275.8,353.3L2292.6,336.5"/>
<path d="M2362.6,389.6H2386.4M2374.5,377.7V401.5M2366.1,381.2L2382.9,398.0M2366.1,398.0L2382.9,381.2"/>
<path d="M265.2,365.2H289.0M277.1,353.3V377.1M268.7,356.8L285.5,373.6M268.7,373.6L285.5,356.8"/>
<path d="M252.3,388.0H276.1M264.2,376.1V399.9M255.8,379.6L272.6,396.4M255.8,396.4L272.6,379.6"/>
<path d="M287.2,391.7H311.0M299.1,379.8V403.6M290.7,383.3L307.5,400.1M290.7,400.1L307.5,383.3"/>
<path d="M309.1,340.5H332.9M321.0,328.6V352.4M312.6,332.1L329.4,348.9M312.6,348.9L329.4,332.1"/>
<path d="M322.3,356.5H346.1M334.2,344.6V368.4M325.8,348.1L342.6,364.9M325.8,364.9L342.6,348.1"/>
<path d="M344.8,359.8H368.6M356.7,347.9V371.7M348.3,351.4L365.1,368.2M348.3,368.2L365.1,351.4"/>
<path d="M355.2,343.3H379.0M367.1,331.4V355.2M358.7,334.9L375.5,351.7M358.7,351.7L375.5,334.9"/>
<path d="M361.8,361.2H385.6M373.7,349.3V373.1M365.3,352.8L382.1,369.6M365.3,369.6L382.1,352.8"/>
<path d="M412.9,367.5H436.7M424.8,355.6V379.4M416.4,359.1L433.2,375.9M416.4,375.9L433.2,359.1"/>
<path d="M458.4,343.1H482.2M470.3,331.2V355.0M461.9,334.7L478.7,351.5M461.9,351.5L478.7,334.7"/>
<path d="M511.7,351.7H535.5M523.6,339.8V363.6M515.2,343.3L532.0,360.1M515.2,360.1L532.0,343.3"/>
<path d="M542.6,337.9H566.4M554.5,326.0V349.8M546.1,329.5L562.9,346.3M546.1,346.3L562.9,329.5"/>
<path d="M551.2,362.0H575.0M563.1,350.1V373.9M554.7,353.6L571.5,370.4M554.7,370.4L571.5,353.6"/>
<path d="M1267.8,390.0H1291.6M1279.7,378.1V401.9M1271.3,381.6L1288.1,398.4M1271.3,398.4L1288.1,381.6"/>
<path d="M1281.0,375.7H1304.8M1292.9,363.8V387.6M1284.5,367.3L1301.3,384.1M1284.5,384.1L1301.3,367.3"/>
<path d="M1309.0,387.3H1332.8M1320.9,375.4V399.2M1312.5,378.9L1329.3,395.7M1312.5,395.7L1329.3,378.9"/>
<path d="M1322.2,367.5H1346.0M1334.1,355.6V379.4M1325.7,359.1L1342.5,375.9M1325.7,375.9L1342.5,359.1"/>
<path d="M1335.1,381.8H1358.9M1347.0,369.9V393.7M1338.6,373.4L1355.4,390.2M1338.6,390.2L1355.4,373.4"/>
<path d="M1364.9,327.0H1388.7M1376.8,315.1V338.9M1368.4,318.6L1385.2,335.4M1368.4,335.4L1385.2,318.6"/>
<path d="M1351.8,366.1H1375.6M1363.7,354.2V378.0M1355.3,357.7L1372.1,374.5M1355.3,374.5L1372.1,357.7"/>
<path d="M1359.4,374.0H1383.2M1371.3,362.1V385.9M1362.9,365.6L1379.7,382.4M1362.9,382.4L1379.7,365.6"/>
<path d="M1347.7,391.2H1371.5M1359.6,379.3V403.1M1351.2,382.8L1368.0,399.6M1351.2,399.6L1368.0,382.8"/>
<path d="M1401.7,360.3H1425.5M1413.6,348.4V372.2M1405.2,351.9L1422.0,368.7M1405.2,368.7L1422.0,351.9"/>
<path d="M1410.2,361.3H1434.0M1422.1,349.4V373.2M1413.7,352.9L1430.5,369.7M1413.7,369.7L1430.5,352.9"/>
<path d="M1419.9,374.0H1443.7M1431.8,362.1V385.9M1423.4,365.6L1440.2,382.4M1423.4,382.4L1440.2,365.6"/>
<path d="M1437.7,382.6H1461.5M1449.6,370.7V394.5M1441.2,374.2L1458.0,391.0M1441.2,391.0L1458.0,374.2"/>
<path d="M1449.7,383.3H1473.5M1461.6,371.4V395.2M1453.2,374.9L1470.0,391.7M1453.2,391.7L1470.0,374.9"/>
<path d="M1431.5,399.8H1455.3M1443.4,387.9V411.7M1435.0,391.4L1451.8,408.2M1435.0,408.2L1451.8,391.4"/>
<path d="M1622.8,378.5H1646.6M1634.7,366.6V390.4M1626.3,370.1L1643.1,386.9M1626.3,386.9L1643.1,370.1"/>
<path d="M1656.0,362.5H1679.8M1667.9,350.6V374.4M1659.5,354.1L1676.3,370.9M1659.5,370.9L1676.3,354.1"/>
<path d="M1690.8,369.4H1714.6M1702.7,357.5V381.3M1694.3,361.0L1711.1,377.8M1694.3,377.8L1711.1,361.0"/>
<path d="M1706.8,355.7H1730.6M1718.7,343.8V367.6M1710.3,347.3L1727.1,364.1M1710.3,364.1L1727.1,347.3"/>
<path d="M1734.8,354.8H1758.6M1746.7,342.9V366.7M1738.3,346.4L1755.1,363.2M1738.3,363.2L1755.1,346.4"/>
<path d="M1746.6,398.2H1770.4M1758.5,386.3V410.1M1750.1,389.8L1766.9,406.6M1750.1,406.6L1766.9,389.8"/>
<path d="M1772.7,398.8H1796.5M1784.6,386.9V410.7M1776.2,390.4L1793.0,407.2M1776.2,407.2L1793.0,390.4"/>
<path d="M1792.2,340.5H1816.0M1804.1,328.6V352.4M1795.7,332.1L1812.5,348.9M1795.7,348.9L1812.5,332.1"/>
<path d="M1811.5,398.2H1835.3M1823.4,386.3V410.1M1815.0,389.8L1831.8,406.6M1815.0,406.6L1831.8,389.8"/>
<path d="M1843.6,339.2H1867.4M1855.5,327.3V351.1M1847.1,330.8L1863.9,347.6M1847.1,347.6L1863.9,330.8"/>
<path d="M1904.0,357.0H1927.8M1915.9,345.1V368.9M1907.5,348.6L1924.3,365.4M1907.5,365.4L1924.3,348.6"/>
<path d="M1955.1,386.7H1978.9M1967.0,374.8V398.6M1958.6,378.3L1975.4,395.1M1958.6,395.1L1975.4,378.3"/>
<path d="M1980.7,367.5H2004.5M1992.6,355.6V379.4M1984.2,359.1L2001.0,375.9M1984.2,375.9L2001.0,359.1"/>
<path d="M2015.0,352.9H2038.8M2026.9,341.0V364.8M2018.5,344.5L2035.3,361.3M2018.5,361.3L2035.3,344.5"/>
<path d="M2028.8,354.3H2052.6M2040.7,342.4V366.2M2032.3,345.9L2049.1,362.7M2032.3,362.7L2049.1,345.9"/>
<path d="M2047.4,366.6H2071.2M2059.3,354.7V378.5M2050.9,358.2L2067.7,375.0M2050.9,375.0L2067.7,358.2"/>
<path d="M2160.1,357.6H2183.9M2172.0,345.7V369.5M2163.6,349.2L2180.4,366.0M2163.6,366.0L2180.4,349.2"/>
<path d="M2166.4,368.0H2190.2M2178.3,356.1V379.9M2169.9,359.6L2186.7,376.4M2169.9,376.4L2186.7,359.6"/>
<path d="M2171.9,340.5H2195.7M2183.8,328.6V352.4M2175.4,332.1L2192.2,348.9M2175.4,348.9L2192.2,332.1"/>
<path d="M2182.1,329.6H2205.9M2194.0,317.7V341.5M2185.6,321.2L2202.4,338.0M2185.6,338.0L2202.4,321.2"/>
<path d="M2207.6,347.4H2231.4M2219.5,335.5V359.3M2211.1,339.0L2227.9,355.8M2211.1,355.8L2227.9,339.0"/>
<path d="M2222.7,357.0H2246.5M2234.6,345.1V368.9M2226.2,348.6L2243.0,365.4M2226.2,365.4L2243.0,348.6"/>
<path d="M2232.3,361.2H2256.1M2244.2,349.3V373.1M2235.8,352.8L2252.6,369.6M2235.8,369.6L2252.6,352.8"/>
<path d="M2245.8,362.5H2269.6M2257.7,350.6V374.4M2249.3,354.1L2266.1,370.9M2249.3,370.9L2266.1,354.1"/>
<path d="M2254.0,362.5H2277.8M2265.9,350.6V374.4M2257.5,354.1L2274.3,370.9M2257.5,370.9L2274.3,354.1"/>
<path d="M2265.0,359.8H2288.8M2276.9,347.9V371.7M2268.5,351.4L2285.3,368.2M2268.5,368.2L2285.3,351.4"/>
<path d="M2269.1,337.3H2292.9M2281.0,325.4V349.2M2272.6,328.9L2289.4,345.7M2272.6,345.7L2289.4,328.9"/>
<path d="M2312.8,367.4H2336.6M2324.7,355.5V379.3M2316.3,359.0L2333.1,375.8M2316.3,375.8L2333.1,359.0"/>
<path d="M2326.6,376.2H2350.4M2338.5,364.3V388.1M2330.1,367.8L2346.9,384.6M2330.1,384.6L2346.9,367.8"/>
<path d="M2318.3,387.2H2342.1M2330.2,375.3V399.1M2321.8,378.8L2338.6,395.6M2321.8,395.6L2338.6,378.8"/>
<path d="M2321.1,396.8H2344.9M2333.0,384.9V408.7M2324.6,388.4L2341.4,405.2M2324.6,405.2L2341.4,388.4"/>
<path d="M2338.9,358.3H2362.7M2350.8,346.4V370.2M2342.4,349.9L2359.2,366.7M2342.4,366.7L2359.2,349.9"/>
<path d="M2355.4,347.4H2379.2M2367.3,335.5V359.3M2358.9,339.0L2375.7,355.8M2358.9,355.8L2375.7,339.0"/>
<path d="M2367.7,352.9H2391.5M2379.6,341.0V364.8M2371.2,344.5L2388.0,361.3M2371.2,361.3L2388.0,344.5"/>
<path d="M2378.7,326.8H2402.5M2390.6,314.9V338.7M2382.2,318.4L2399.0,335.2M2382.2,335.2L2399.0,318.4"/>
<path d="M2415.0,350.1H2438.8M2426.9,338.2V362.0M2418.5,341.7L2435.3,358.5M2418.5,358.5L2435.3,341.7"/>
<path d="M2431.5,339.1H2455.3M2443.4,327.2V351.0M2435.0,330.7L2451.8,347.5M2435.0,347.5L2451.8,330.7"/>
<path d="M2419.9,380.3H2443.7M2431.8,368.4V392.2M2423.4,371.9L2440.2,388.7M2423.4,388.7L2440.2,371.9"/>
<path d="M2449.6,376.7H2473.4M2461.5,364.8V388.6M2453.1,368.3L2469.9,385.1M2453.1,385.1L2469.9,368.3"/>
</g>
<rect x="164.4" y="74.0" width="2302.9" height="336.2" fill="none" stroke="#262626" stroke-width="2"/>
<path d="M625.0,410.2V387.2M625.0,74.0V97.0M1085.6,410.2V387.2M1085.6,74.0V97.0M1546.1,410.2V387.2M1546.1,74.0V97.0M2006.7,410.2V387.2M2006.7,74.0V97.0M164.4,298.1H187.4M2467.3,298.1H2444.3M164.4,186.1H187.4M2467.3,186.1H2444.3" stroke="#262626" stroke-width="2" fill="none"/>
<text x="153" y="424.2" text-anchor="end" font-size="39.5" fill="#262626">0</text>
<text x="153" y="312.1" text-anchor="end" font-size="39.5" fill="#262626">10</text>
<text x="153" y="200.1" text-anchor="end" font-size="39.5" fill="#262626">20</text>
<text x="153" y="88.0" text-anchor="end" font-size="39.5" fill="#262626">30</text>
<g transform="translate(38,242.1) rotate(-90)" fill="#262626" font-size="43.5" text-anchor="middle"><text x="0" y="0" transform="scale(1,1.04)">Ripple Height</text><text x="0" y="53" transform="scale(1,1.04)">(cm)</text></g>
<text x="3" y="47" font-size="57.5" fill="#000">A</text>
<rect x="2199.5" y="93.3" width="236.3" height="149" fill="#fff" stroke="#262626" stroke-width="2"/>
<line x1="2215" x2="2333.5" y1="123.1" y2="123.1" stroke="#bf0000" stroke-width="4"/>
<text x="2345" y="137.6" font-size="36" fill="#000">W-H</text>
<line x1="2215" x2="2333.5" y1="168.3" y2="168.3" stroke="#0000bf" stroke-width="4"/>
<text x="2345" y="182.8" font-size="36" fill="#000">OD</text>
<line x1="2215" x2="2333.5" y1="213.5" y2="213.5" stroke="#00bf00" stroke-width="4"/>
<text x="2345" y="228.0" font-size="36" fill="#000">S-G</text>
<clipPath id="cB"><rect x="164.4" y="571.5" width="2302.9" height="334.20000000000005"/></clipPath>
<g clip-path="url(#cB)" fill="none" stroke-width="4.3" stroke-linejoin="round" stroke-linecap="round">
<polyline stroke="#bf0000" points="165.2,784.4 168.7,785.2 172.2,778.6 178.8,777.7 183.2,794.5 187.5,803.2 191.3,827.8 195.3,846.6 199.1,853.0 202.8,854.7 206.9,848.1 211.5,839.4 216.5,817.7 219.4,803.2 222.2,803.2 225.1,780.0 228.0,777.7 230.9,782.9 233.8,810.4 236.7,785.8 241.1,811.3 245.4,811.3 249.2,809.0 254.1,797.4 257.9,780.6 262.8,777.7 267.7,780.0 271.5,778.6 275.8,778.6 280.2,788.7 284.5,814.8 287.4,835.0 290.9,843.7 294.6,848.1 299.0,843.7 303.3,837.9 306.2,814.8 310.0,797.4 310.0,800.3 313.5,784.4 317.2,836.5 321.6,791.6 325.9,832.1 329.7,797.4 333.7,803.2 337.5,806.1 340.4,845.2 344.2,800.3 348.2,791.6 352.8,782.9 356.3,782.3 359.8,778.6 363.6,794.5 367.9,780.0 371.4,803.2 376.0,782.9 379.5,806.1 382.4,822.0 386.7,852.4 390.5,839.4 394.0,848.9 398.3,830.7 402.1,829.2 406.1,791.6 409.9,782.9 413.6,794.5 417.7,781.5 422.3,800.3 425.8,807.5 429.3,817.7 433.0,835.0 437.4,829.2 440.9,817.7 444.6,794.5 448.4,781.5 451.9,803.2 455.6,780.0 460.0,803.2 460.0,817.7 463.5,788.7 467.2,839.4 471.0,840.2 475.1,832.1 478.8,837.9 483.2,846.6 487.5,851.0 491.3,853.9 494.7,830.7 498.2,835.0 502.0,829.2 505.7,788.7 509.8,782.3 513.6,791.0 516.5,795.9 519.4,803.2 522.2,817.7 526.0,837.9 529.5,829.2 533.0,831.6 536.7,833.6 540.5,803.2 544.5,780.0 548.3,840.2 553.2,778.6 557.0,797.4 559.9,823.5 563.6,788.7 567.1,817.7 570.6,819.1 574.4,843.7 578.7,846.0 583.0,845.2 587.4,835.0 591.7,823.5 594.0,780.0 598.4,839.4 601.9,809.0 605.3,814.8 608.8,778.6 610.0,778.6 610.0,780.0 613.5,788.7 617.2,837.9 621.0,788.7 624.5,839.4 628.0,829.2 632.6,814.8 636.6,827.8 640.4,814.8 644.2,785.8 647.6,782.9 651.1,780.0 655.7,782.3 659.2,778.6 663.0,782.3 667.3,801.7 670.8,780.0 675.1,780.0 678.9,842.3 682.4,811.9 685.9,780.0 689.9,779.4 694.0,782.3 697.7,781.5 701.8,779.4 705.5,781.5 709.6,819.1 713.4,780.0 717.7,778.6 721.5,780.0 725.2,837.9 728.7,788.7 732.8,780.0 736.5,799.7 740.3,781.5 743.8,811.9 747.5,781.5 751.9,778.6 756.2,779.4 760.0,788.7 760.0,782.9 763.5,800.3 767.2,830.7 771.0,827.8 775.1,824.9 778.8,807.5 782.6,782.9 786.6,782.9 789.8,845.2 793.3,782.9 797.6,780.0 802.0,781.5 805.5,788.7 809.2,791.6 813.6,800.3 817.3,820.6 820.2,845.2 824.3,800.3 828.0,792.2 832.4,794.5 835.9,798.8 839.6,827.8 844.0,777.1 847.4,777.1 851.5,811.9 855.0,777.1 859.0,782.9 862.8,781.5 867.1,785.8 871.5,785.2 874.4,784.4 878.1,836.5 882.2,782.9 886.2,785.8 889.7,782.3 893.8,785.8 897.5,785.8 901.9,780.0 906.2,803.2 910.0,820.6 910.0,820.6 912.9,782.9 916.4,836.5 920.1,839.4 923.9,790.2 928.0,814.8 931.7,778.6 935.5,780.6 939.5,781.5 943.3,781.5 947.1,780.6 951.1,780.0 954.9,836.5 958.6,846.6 962.7,780.0 966.5,836.5 970.2,829.2 973.7,780.0 977.2,777.1 980.9,785.8 985.9,788.1 990.5,784.4 994.0,780.0 996.9,806.1 1001.2,782.3 1005.0,804.6 1009.0,781.5 1012.8,780.0 1016.5,851.8 1020.0,780.6 1024.4,781.5 1028.1,833.6 1031.6,824.9 1035.1,781.5 1039.1,780.0 1043.2,825.8 1047.5,782.9 1051.3,814.8 1054.8,782.9 1060.0,803.2 1060.0,801.7 1062.9,804.6 1066.4,788.7 1070.1,810.4 1073.9,781.5 1078.0,780.0 1081.7,781.5 1085.5,782.3 1089.0,779.4 1093.3,780.0 1097.1,791.6 1100.5,814.8 1104.3,788.7 1108.6,856.7 1112.1,811.9 1116.5,785.8 1120.2,785.2 1123.7,782.3 1127.2,794.5 1130.9,829.2 1135.3,780.0 1138.7,788.7 1143.1,826.3 1146.9,782.9 1150.6,828.7 1154.7,782.9 1158.4,839.4 1161.9,793.1 1165.7,778.6 1169.4,781.5 1173.5,788.7 1178.1,784.4 1181.6,788.7 1185.1,822.0 1188.8,778.6 1192.6,788.7 1196.7,848.1 1200.4,810.4 1204.8,814.8 1210.0,823.5 1210.0,823.5 1212.3,832.1 1216.4,811.9 1223.0,780.0 1230.8,778.6 1237.5,780.6 1243.3,782.9 1247.1,795.9 1250.5,811.3 1254.0,800.3 1257.8,785.8 1262.1,780.6 1269.4,778.6 1273.1,788.1 1277.2,784.4 1280.9,778.6 1285.9,785.8 1289.6,806.1 1295.4,843.7 1304.1,846.6 1307.9,829.2 1311.9,800.3 1315.7,794.5 1320.0,788.7 1323.5,817.7 1327.3,788.7 1331.6,846.6 1335.1,797.4 1338.8,806.1 1342.6,820.6 1346.7,811.9 1351.3,806.1 1354.8,788.7 1360.0,778.6 1360.0,778.6 1365.8,781.5 1370.1,778.6 1373.0,779.4 1377.4,830.7 1380.8,778.6 1385.5,782.3 1389.0,806.1 1392.4,862.5 1396.2,835.0 1399.1,841.4 1403.4,832.1 1407.8,824.9 1411.5,831.6 1415.6,782.9 1419.4,821.1 1423.1,781.5 1427.2,814.8 1430.9,778.6 1435.9,780.6 1439.6,782.9 1444.0,778.6 1446.3,781.5 1450.3,827.8 1454.1,788.7 1457.9,806.1 1461.3,778.6 1465.7,817.7 1469.4,782.3 1473.5,782.3 1477.3,778.6 1481.0,778.6 1485.1,795.9 1488.8,806.1 1492.6,824.9 1496.7,811.9 1500.4,787.3 1504.2,845.2 1510.0,823.5 1510.0,826.3 1514.3,782.9 1519.3,780.0 1523.0,840.8 1526.8,845.2 1530.3,817.7 1533.7,814.2 1538.1,793.1 1541.8,812.5 1546.2,780.0 1550.0,820.6 1554.0,830.7 1557.8,780.0 1562.1,782.9 1565.0,793.1 1569.4,778.6 1573.1,782.9 1576.6,848.1 1580.4,837.9 1583.8,864.0 1588.2,842.3 1592.5,870.4 1596.3,827.8 1600.3,803.2 1604.1,851.0 1607.9,829.2 1611.3,778.6 1615.7,806.1 1619.4,816.2 1622.9,806.1 1625.8,835.0 1630.2,838.5 1633.9,836.5 1638.0,781.5 1641.7,846.6 1645.5,826.3 1649.0,777.1 1653.3,778.6 1657.1,782.3 1660.0,778.6 1660.0,781.5 1663.5,778.6 1668.7,820.6 1673.0,835.0 1676.8,849.5 1683.2,848.9 1687.5,803.2 1691.3,791.6 1695.3,777.1 1699.1,797.4 1703.4,778.6 1706.9,779.4 1711.5,777.7 1715.6,782.9 1719.4,816.2 1722.2,806.1 1726.0,829.2 1730.1,839.4 1733.8,784.4 1738.2,778.6 1741.9,781.5 1745.4,781.5 1749.2,782.3 1752.6,780.6 1756.4,777.7 1760.8,781.5 1764.8,803.2 1769.4,824.9 1773.5,834.5 1777.3,829.2 1781.0,819.1 1784.5,809.0 1788.0,788.1 1791.7,797.4 1795.5,780.0 1799.5,780.0 1803.3,782.3 1807.1,785.8 1810.0,807.5 1810.0,804.6 1812.3,806.1 1815.2,797.4 1818.7,817.7 1822.2,858.2 1825.9,794.5 1829.7,785.8 1833.2,784.4 1837.5,778.6 1841.3,839.4 1845.3,836.5 1849.1,781.5 1853.4,843.7 1856.9,793.1 1860.7,855.3 1864.4,822.9 1867.9,824.9 1872.2,874.1 1876.0,814.8 1879.5,866.9 1883.8,794.5 1887.6,846.0 1891.1,782.9 1895.4,782.9 1899.2,785.8 1902.6,791.6 1907.0,803.2 1911.3,814.8 1915.7,821.1 1920.0,817.7 1924.4,810.4 1928.7,807.5 1933.0,797.4 1937.4,784.4 1941.7,791.6 1946.1,795.9 1949.5,803.2 1952.4,864.0 1956.2,866.9 1960.0,878.5 1960.0,874.1 1966.4,869.2 1971.0,858.2 1974.5,835.0 1978.8,782.9 1983.2,779.4 1987.5,796.8 1991.3,777.7 1994.7,780.6 1999.1,784.4 2003.4,793.1 2007.8,801.7 2012.1,809.6 2015.0,811.9 2019.4,804.6 2022.2,806.1 2026.0,794.5 2029.5,784.4 2033.0,792.2 2036.7,783.5 2041.1,785.8 2045.4,791.6 2049.2,819.1 2052.6,814.8 2057.0,817.7 2060.8,826.3 2064.8,817.7 2068.6,811.9 2072.3,798.8 2075.8,784.4 2080.2,784.4 2085.1,784.4 2088.8,785.8 2091.7,840.2 2095.5,840.8 2099.0,814.8 2102.4,806.1 2106.2,811.9 2109.1,858.2 2110.0,855.3 2110.0,858.2 2113.5,823.5 2117.2,806.1 2121.6,782.3 2125.9,806.1 2129.7,835.0 2133.2,788.7 2137.5,781.5 2141.3,804.6 2144.7,785.8 2149.1,806.1 2153.4,809.0 2156.9,819.1 2160.7,800.3 2164.4,833.6 2167.9,807.5 2172.2,781.5 2176.6,778.6 2183.8,777.7 2189.6,780.0 2194.0,780.0 2198.3,836.5 2202.1,829.2 2205.5,780.0 2209.9,780.6 2213.6,846.6 2217.7,780.0 2221.5,794.5 2225.8,807.5 2229.3,780.0 2233.0,832.1 2237.4,778.6 2241.7,778.6 2246.1,780.6 2249.0,780.0 2251.9,845.2 2256.2,782.3 2260.0,795.9 2260.0,795.9 2263.5,788.7 2267.2,822.0 2271.6,780.0 2277.4,780.0 2283.2,780.6 2287.5,777.1 2291.8,778.6 2297.6,781.5 2302.0,811.9 2306.3,800.3 2309.8,807.5 2313.6,794.5 2317.9,785.8 2322.2,781.5 2326.6,778.6 2330.9,780.0 2333.0,837.9 2336.7,781.5 2340.5,794.5 2344.5,835.0 2348.3,800.3 2352.1,784.4 2356.1,780.0 2359.9,781.5 2363.6,823.5 2367.7,778.6 2372.9,780.0 2377.3,781.5 2381.4,829.2 2385.8,837.9 2390.1,780.0 2394.5,794.5 2398.0,856.7 2401.7,862.5 2405.5,806.1 2409.0,794.5 2413.3,780.0 2417.1,846.6 2421.1,780.0 2424.9,833.6 2428.6,781.5 2432.1,780.0 2435.6,782.9 2439.4,788.7 2443.7,813.3 2447.2,787.3 2450.9,785.8 2455.3,780.0 2459.0,777.1 2463.4,829.2 2467.1,780.0"/>
<polyline stroke="#0000bf" points="165.2,780.0 168.7,780.0 172.2,756.9 175.9,736.6 179.7,748.2 183.2,788.7 187.5,795.9 190.4,817.7 194.2,835.0 198.2,843.7 202.0,846.0 206.3,840.8 210.7,830.7 215.0,811.9 217.9,793.9 220.8,795.9 223.7,765.6 226.0,735.2 229.5,746.7 233.0,801.7 236.7,767.0 239.6,787.3 242.5,796.8 246.9,796.8 251.2,791.6 257.0,759.8 260.8,746.7 263.6,737.2 267.7,761.2 271.5,751.1 275.8,730.2 280.2,775.7 283.0,791.6 287.4,822.0 290.9,833.6 294.6,837.9 299.0,833.6 303.3,827.8 306.2,800.3 310.0,781.5 310.0,782.9 313.5,774.8 317.2,836.5 321.6,759.8 325.9,832.1 329.7,787.3 333.7,790.2 337.5,792.2 340.4,845.2 344.2,788.7 348.2,782.3 352.8,771.3 356.3,775.7 359.8,732.3 363.6,826.3 367.9,736.6 371.4,832.7 376.0,765.0 379.5,800.3 382.4,814.8 386.7,843.7 390.5,832.1 394.0,839.4 398.3,822.9 402.1,822.9 406.1,782.9 409.9,756.3 413.6,779.4 417.7,765.6 422.3,785.8 425.8,797.4 429.3,803.2 433.0,826.3 437.4,822.9 440.9,811.9 444.6,785.8 448.4,773.7 451.9,826.9 455.6,758.3 460.0,820.6 460.0,820.6 463.5,787.3 467.2,837.9 471.0,836.5 475.1,822.9 478.8,829.2 483.2,837.9 487.5,843.7 491.3,846.6 494.7,823.5 498.2,828.7 502.0,819.1 505.7,772.8 509.8,765.6 512.7,775.7 515.6,782.9 518.5,788.1 522.2,807.5 526.0,822.0 529.5,813.3 533.0,817.7 536.7,824.9 540.5,794.5 544.5,762.7 548.3,840.2 552.1,746.7 556.1,765.6 559.9,822.0 563.6,781.5 567.1,806.1 570.6,803.2 574.4,830.7 578.1,834.5 582.2,834.5 585.9,824.9 590.3,814.8 594.0,719.2 598.4,837.9 601.9,798.8 604.8,803.2 608.8,716.3 610.0,745.3 610.0,716.3 613.5,777.1 617.2,836.5 621.0,736.0 624.5,837.9 628.0,817.7 632.6,805.5 636.6,826.3 640.4,811.9 644.2,782.3 647.6,782.3 651.1,730.8 655.7,712.9 659.8,732.3 663.0,701.9 667.3,790.2 670.8,710.0 675.1,751.1 678.9,840.2 682.4,800.3 685.9,742.4 689.9,707.1 694.0,725.0 697.7,796.8 701.8,709.1 705.5,730.8 709.6,819.1 713.4,701.3 717.7,739.5 721.5,759.8 725.2,837.9 728.7,788.7 732.8,763.2 736.5,785.8 740.3,753.4 743.8,811.9 747.5,771.3 751.9,740.9 756.2,756.9 760.0,772.8 760.0,765.6 763.5,780.0 767.2,822.0 771.0,817.7 775.1,814.8 778.8,797.4 782.6,769.0 786.6,771.3 789.8,845.2 793.3,766.1 797.6,765.0 802.0,766.1 805.5,677.2 809.2,778.6 813.6,791.6 817.3,811.9 820.2,843.7 824.3,788.7 828.0,778.6 832.4,785.8 835.9,791.6 839.6,827.8 844.0,732.3 847.4,733.1 851.5,804.6 855.0,736.6 859.0,765.6 862.8,757.4 867.1,768.4 871.5,768.4 874.4,768.4 878.1,835.0 882.2,707.1 886.2,783.5 889.7,709.1 893.8,700.4 897.5,698.4 901.9,723.6 906.2,795.9 910.0,817.7 910.0,817.7 912.9,745.3 916.4,835.0 920.1,837.9 923.9,671.5 928.0,811.9 931.7,731.4 935.5,765.6 939.5,712.0 943.3,768.4 947.1,714.0 951.1,716.3 954.9,835.0 958.6,848.1 962.7,772.8 966.5,836.5 970.2,827.8 973.7,719.8 978.0,738.0 981.8,699.0 985.9,695.5 990.5,700.4 994.0,720.7 996.9,806.1 1001.2,750.5 1005.0,795.9 1009.0,772.8 1012.8,754.0 1016.5,851.0 1020.0,756.3 1024.4,772.8 1028.1,833.6 1031.6,824.9 1035.1,771.3 1039.1,707.6 1043.2,823.5 1047.5,753.4 1051.3,814.8 1054.8,767.0 1060.0,788.7 1060.0,788.7 1062.9,795.9 1066.4,765.6 1070.1,807.5 1073.9,736.6 1078.0,719.2 1081.7,727.3 1085.5,710.5 1089.0,729.4 1093.3,762.7 1097.1,782.9 1100.5,800.3 1104.3,768.4 1108.6,854.7 1112.1,811.9 1116.5,769.9 1120.2,771.3 1123.7,763.2 1127.2,794.5 1130.9,829.2 1135.3,751.7 1138.7,780.0 1143.1,823.5 1146.9,773.7 1150.6,824.9 1154.7,777.1 1158.4,837.9 1161.9,790.2 1165.7,730.8 1169.4,707.6 1173.5,699.0 1178.1,719.2 1181.6,710.5 1185.1,628.0 1188.8,716.3 1192.6,777.1 1196.7,846.6 1200.4,794.5 1204.8,797.4 1210.0,803.2 1210.0,803.2 1212.3,822.0 1216.4,791.6 1223.0,751.1 1230.8,744.7 1235.5,754.0 1239.0,762.7 1243.3,767.0 1247.1,782.9 1250.5,799.7 1254.0,785.8 1257.8,765.6 1262.1,756.9 1265.6,753.4 1269.4,758.3 1273.1,701.3 1277.2,707.1 1280.9,756.3 1285.9,772.8 1289.6,797.4 1294.0,820.6 1297.4,835.0 1304.1,837.9 1307.9,817.7 1311.9,791.6 1315.7,785.8 1320.0,780.0 1323.5,820.6 1327.3,759.8 1331.6,849.5 1335.1,795.1 1338.8,800.3 1342.6,811.9 1346.7,803.2 1351.3,794.5 1354.8,780.0 1360.0,742.4 1360.0,751.1 1365.8,724.4 1370.1,762.7 1373.0,756.9 1377.4,831.6 1380.8,773.7 1385.5,778.6 1389.0,803.2 1392.4,859.6 1396.2,823.5 1399.1,830.7 1403.4,817.7 1407.8,814.8 1411.5,829.2 1415.6,769.9 1419.4,822.0 1423.1,745.3 1427.2,809.6 1430.9,736.6 1435.9,748.2 1439.6,759.8 1444.0,754.0 1446.3,729.4 1450.3,827.8 1454.1,687.4 1457.9,659.9 1461.3,771.3 1465.7,641.1 1469.4,777.1 1472.9,785.8 1477.3,722.7 1481.0,745.3 1485.1,780.0 1488.8,794.5 1492.6,813.3 1496.7,794.5 1500.4,753.4 1504.2,842.3 1510.0,811.9 1510.0,814.8 1514.3,769.9 1519.3,768.4 1523.0,839.4 1526.8,843.1 1530.3,806.1 1533.7,802.6 1538.1,774.2 1541.8,804.6 1546.2,745.9 1550.0,817.7 1554.0,830.7 1557.8,773.7 1562.1,778.6 1565.0,788.7 1569.4,753.4 1573.1,774.2 1576.6,840.8 1580.4,831.6 1583.8,858.2 1588.2,832.7 1592.5,868.3 1596.3,823.5 1600.3,790.2 1604.1,849.5 1607.9,827.8 1611.3,746.7 1615.7,797.4 1619.4,806.1 1622.9,795.9 1625.8,824.9 1630.2,829.2 1633.9,829.2 1638.0,765.6 1641.7,846.6 1645.5,824.9 1649.0,733.7 1653.3,739.5 1657.1,775.7 1660.0,707.6 1661.4,706.2 1665.2,727.9 1668.7,811.9 1673.0,826.3 1677.4,839.4 1683.2,840.2 1687.5,790.2 1691.3,778.6 1695.3,739.5 1699.1,790.2 1703.4,726.5 1706.9,748.2 1711.5,730.8 1715.6,759.8 1719.4,806.1 1722.2,791.6 1726.0,820.6 1730.1,830.7 1733.8,777.1 1738.2,754.0 1741.9,732.3 1745.4,771.3 1749.2,711.1 1752.6,711.1 1756.4,745.3 1760.8,756.9 1764.8,782.9 1769.4,811.9 1773.5,822.9 1777.3,822.0 1781.0,809.0 1784.5,798.8 1788.0,774.8 1791.7,787.3 1795.5,750.5 1799.5,756.9 1803.3,764.1 1807.1,771.3 1810.0,781.5 1810.0,781.5 1812.3,797.4 1815.2,790.2 1818.7,814.8 1822.2,856.7 1825.9,782.3 1829.7,775.7 1833.2,775.7 1837.5,736.0 1841.3,839.4 1845.3,836.5 1849.1,744.7 1853.4,843.7 1856.9,784.4 1860.7,851.8 1864.4,817.7 1867.9,822.0 1872.2,871.2 1876.0,808.4 1879.5,866.9 1883.8,788.1 1887.6,846.0 1891.1,773.7 1895.4,771.3 1899.2,775.7 1902.6,782.9 1907.0,794.5 1911.3,804.6 1915.7,811.9 1920.0,807.5 1924.4,800.3 1928.7,798.0 1933.0,785.8 1937.4,775.7 1941.7,782.3 1946.1,787.3 1949.5,797.4 1952.4,864.0 1956.2,866.3 1960.0,878.5 1960.0,877.0 1962.3,878.5 1966.4,869.8 1971.0,856.7 1974.5,823.5 1978.8,754.0 1983.2,746.7 1987.5,785.2 1991.3,742.4 1994.7,758.3 1999.1,768.4 2003.4,777.1 2007.8,788.7 2012.1,796.8 2015.0,798.0 2019.4,790.2 2022.2,791.0 2026.0,778.6 2029.5,770.8 2033.0,777.7 2036.7,771.3 2041.1,775.7 2045.4,780.0 2049.2,807.5 2052.6,802.6 2057.0,804.6 2060.8,816.2 2064.8,807.5 2068.6,800.3 2072.3,785.8 2075.8,773.7 2080.2,775.7 2085.1,778.6 2088.8,782.3 2091.7,840.2 2095.5,840.8 2099.0,811.9 2102.4,795.9 2106.2,802.6 2109.1,856.7 2110.0,855.3 2110.0,856.7 2113.5,814.8 2117.2,798.8 2121.6,759.8 2125.9,800.3 2129.7,833.6 2133.2,777.1 2137.5,761.2 2141.3,794.5 2144.7,771.3 2149.1,795.9 2153.4,798.8 2156.9,807.5 2160.7,788.7 2164.4,831.6 2167.9,800.3 2172.2,765.6 2176.0,749.6 2180.1,742.4 2183.8,740.1 2187.6,753.4 2191.1,755.4 2194.5,722.1 2198.3,827.8 2202.1,823.5 2205.5,751.1 2209.9,751.1 2213.6,843.1 2217.7,725.0 2221.5,774.2 2225.8,797.4 2228.7,725.0 2233.0,832.1 2237.4,725.0 2241.7,742.4 2245.5,748.2 2249.0,745.3 2251.9,842.3 2256.2,751.1 2260.0,777.1 2260.0,777.1 2263.5,725.0 2267.2,822.0 2271.0,725.0 2274.5,725.0 2283.2,725.0 2289.0,736.6 2293.3,756.3 2297.6,756.3 2302.0,800.3 2306.3,781.5 2309.8,795.9 2313.6,775.7 2317.9,769.9 2321.4,764.1 2326.0,749.6 2329.5,756.9 2333.0,837.9 2336.7,764.1 2340.5,788.7 2344.5,833.6 2348.3,795.9 2352.1,771.3 2356.1,756.3 2359.9,759.8 2363.6,823.5 2367.7,725.0 2371.5,725.0 2377.3,725.0 2381.4,823.5 2385.8,835.0 2390.1,773.7 2394.5,785.8 2398.0,855.3 2401.7,860.5 2405.5,795.9 2409.0,780.0 2413.3,778.6 2417.1,848.1 2421.1,759.8 2424.9,835.0 2428.6,758.3 2432.1,761.2 2435.6,772.8 2439.4,775.7 2443.7,804.6 2447.2,772.8 2450.9,773.7 2455.3,751.1 2459.0,732.3 2463.4,829.2 2467.1,748.2"/>
<polyline stroke="#00bf00" points="165.2,895.8 171.6,895.8 178.8,894.4 183.2,895.3 189.0,890.0 193.3,886.6 197.6,881.4 202.0,879.9 206.3,881.4 210.7,885.7 215.0,891.5 220.8,895.3 225.1,891.5 229.5,890.0 233.0,894.4 236.7,888.6 241.1,885.7 245.4,884.3 249.8,885.7 254.1,888.6 259.9,891.5 265.7,892.9 271.5,895.3 275.8,892.4 280.2,891.5 284.5,885.7 290.3,879.9 294.6,877.0 299.0,879.9 304.8,885.7 310.0,889.5 310.0,890.0 314.3,895.3 318.1,898.7 321.6,892.9 325.1,897.3 328.8,891.5 333.2,889.5 337.5,887.7 340.4,894.4 344.7,887.1 349.1,890.6 353.4,893.5 357.8,894.4 362.1,894.4 364.4,900.2 367.9,894.4 370.8,897.3 375.1,890.6 379.5,887.1 383.8,883.7 387.6,882.8 391.1,879.9 395.4,884.3 399.8,885.7 402.6,892.4 408.4,892.9 412.8,895.3 417.1,892.4 421.5,891.5 425.8,890.6 428.7,888.6 434.5,889.5 440.3,891.5 446.1,893.5 451.9,897.3 456.2,895.3 460.0,897.3 460.0,897.3 464.3,894.4 468.1,895.8 473.0,888.6 478.8,882.8 484.6,882.8 489.0,885.7 493.3,886.6 497.6,891.5 502.0,894.4 507.8,892.4 513.6,892.4 517.9,890.0 523.7,889.5 528.9,884.8 533.8,890.0 538.2,891.5 544.0,892.4 548.3,900.2 552.6,894.4 558.4,895.8 562.8,892.4 567.1,888.6 570.6,879.9 575.8,879.0 581.6,880.8 587.4,885.7 593.2,888.6 597.5,897.3 601.9,894.4 606.2,895.8 610.0,887.1 610.0,888.6 614.3,894.4 618.1,892.9 621.6,885.7 625.1,895.3 630.3,894.4 637.5,897.3 646.2,898.1 652.0,895.3 657.8,892.9 663.6,887.1 667.9,889.5 672.2,891.5 678.0,888.6 683.8,890.0 688.2,892.4 694.0,895.8 699.8,893.5 705.5,894.4 709.9,888.6 712.8,887.1 717.1,890.6 722.9,892.9 728.7,895.3 734.5,892.4 740.3,894.4 746.1,892.9 751.9,890.0 760.0,887.1 760.0,889.5 764.3,891.5 768.7,889.5 773.0,890.6 777.4,892.4 781.7,891.5 786.1,893.5 790.4,900.2 794.7,894.4 800.5,893.5 804.9,886.6 809.2,891.5 815.0,892.4 820.8,896.4 825.1,891.5 830.9,892.4 836.7,894.4 841.1,893.5 845.4,889.5 848.3,891.5 852.6,887.1 857.0,884.3 861.3,883.7 866.5,881.9 871.5,885.7 875.8,887.1 880.2,894.4 884.5,890.0 890.3,888.6 896.1,894.4 901.9,895.8 910.0,896.4 910.0,892.9 914.3,897.3 918.7,894.4 923.0,892.4 927.4,896.4 931.7,894.4 936.1,895.3 940.4,892.9 944.7,893.5 949.1,891.5 953.4,895.3 957.8,897.3 962.1,894.4 966.5,897.3 970.8,895.3 975.1,892.9 979.5,891.5 985.3,894.4 991.1,897.3 995.4,898.1 999.8,894.4 1004.1,892.9 1008.4,891.5 1011.3,888.6 1015.7,885.7 1020.0,887.7 1024.4,893.5 1028.7,898.1 1033.0,896.4 1037.4,893.5 1041.7,894.4 1046.1,891.5 1051.9,892.9 1056.2,890.6 1060.0,894.4 1060.0,892.9 1064.3,894.4 1068.1,895.8 1073.0,893.5 1077.4,895.3 1081.7,895.8 1086.1,894.4 1090.4,895.3 1096.2,894.4 1100.5,892.4 1104.0,879.9 1107.8,892.9 1112.1,885.7 1116.5,879.0 1120.8,885.7 1125.1,891.5 1130.9,897.3 1135.3,894.4 1141.1,895.8 1145.4,890.6 1149.8,895.8 1153.2,891.5 1158.4,895.8 1164.2,894.4 1170.0,895.3 1175.8,896.4 1181.6,895.3 1185.1,892.9 1188.8,894.4 1193.2,893.5 1196.7,895.3 1200.4,884.3 1204.8,881.9 1210.0,885.7 1210.0,885.7 1215.8,891.5 1221.6,891.5 1227.4,893.5 1233.2,892.4 1239.0,891.5 1244.7,887.7 1249.1,889.5 1253.4,888.6 1259.2,891.5 1265.0,895.3 1270.8,896.4 1276.6,894.4 1282.4,893.5 1286.7,891.5 1291.1,887.1 1295.4,881.9 1301.2,879.9 1305.5,881.9 1309.9,886.6 1314.2,892.4 1318.6,894.4 1322.9,898.1 1326.4,893.5 1330.2,898.7 1334.5,892.4 1340.3,889.5 1346.1,888.6 1351.9,891.5 1360.0,895.8 1360.0,895.3 1365.8,897.3 1371.6,898.1 1375.9,900.2 1378.8,894.4 1383.2,888.6 1387.5,882.8 1390.4,880.8 1393.3,888.6 1396.2,880.8 1400.0,879.0 1403.4,883.7 1407.8,890.0 1412.1,895.3 1415.0,896.4 1417.9,894.4 1420.8,897.3 1423.7,892.9 1427.2,894.4 1430.9,882.8 1435.9,881.4 1441.1,882.8 1445.4,884.3 1449.8,891.5 1453.2,896.4 1458.4,891.5 1462.8,894.4 1467.1,895.8 1471.5,892.9 1475.8,890.0 1481.6,887.1 1487.4,882.8 1493.2,880.8 1499.0,881.4 1503.3,894.4 1510.0,895.8 1510.0,896.4 1514.3,895.3 1518.7,894.4 1523.0,898.1 1527.4,895.3 1531.7,890.0 1534.6,888.6 1539.0,885.7 1541.8,892.4 1546.2,892.4 1550.5,898.1 1556.3,897.3 1563.6,897.3 1567.9,890.0 1572.2,887.1 1576.0,890.0 1579.5,883.7 1582.4,887.1 1585.9,882.8 1589.6,888.6 1594.0,888.6 1598.3,891.5 1602.6,898.7 1607.0,897.3 1611.3,892.4 1615.7,894.4 1620.0,891.5 1622.9,885.7 1627.3,887.7 1631.6,887.1 1635.9,886.6 1638.8,882.8 1641.7,894.4 1646.1,895.8 1650.4,893.5 1654.8,895.3 1660.0,890.0 1660.0,895.3 1663.5,890.0 1667.2,888.6 1671.6,882.8 1675.9,880.8 1680.3,880.8 1684.6,881.4 1688.1,876.1 1691.8,884.8 1696.2,887.7 1700.0,894.4 1704.0,891.5 1707.8,892.4 1712.1,888.6 1717.9,888.6 1722.2,882.8 1726.0,887.1 1729.5,889.5 1733.8,887.7 1738.2,892.4 1741.6,892.4 1745.4,895.8 1749.8,891.5 1755.5,891.5 1759.9,887.1 1764.2,883.7 1768.6,878.5 1772.9,877.0 1777.3,876.1 1781.6,879.0 1785.9,885.7 1791.7,891.5 1796.1,890.0 1801.9,891.5 1810.0,891.5 1810.0,891.5 1814.3,886.6 1818.1,892.4 1821.6,896.4 1825.9,890.0 1830.3,891.5 1834.6,893.5 1838.4,892.9 1841.8,898.7 1845.3,900.2 1849.1,894.4 1852.8,897.3 1856.3,890.0 1859.8,893.5 1863.6,885.7 1867.3,886.6 1870.8,894.4 1875.1,887.1 1879.5,895.8 1883.0,892.4 1886.7,898.7 1891.1,893.5 1895.4,894.4 1899.8,892.4 1905.5,891.5 1909.9,888.6 1914.2,887.7 1918.6,887.1 1922.9,889.5 1928.7,892.4 1934.5,892.9 1940.3,893.5 1946.1,892.4 1950.4,892.9 1953.3,897.3 1956.2,895.8 1960.0,894.4 1960.0,895.3 1964.3,894.4 1968.7,894.4 1973.0,891.5 1978.8,884.8 1983.2,887.7 1987.5,892.4 1991.8,887.1 1997.6,885.7 2003.4,884.3 2009.2,884.8 2014.4,883.7 2019.4,887.1 2025.1,890.0 2030.9,891.5 2036.7,891.5 2042.5,889.5 2048.3,887.7 2055.5,885.7 2061.3,888.6 2067.1,891.5 2072.9,893.5 2078.7,895.3 2084.5,894.4 2088.8,897.3 2092.6,898.7 2096.1,896.4 2100.4,891.5 2104.8,890.6 2107.7,895.8 2110.0,893.5 2110.0,895.8 2113.5,892.4 2117.2,890.0 2121.6,889.5 2125.1,893.5 2128.8,897.3 2133.2,893.5 2137.5,892.4 2141.8,894.4 2145.3,889.5 2149.1,890.6 2152.8,889.5 2156.9,891.5 2160.7,888.6 2165.0,895.8 2169.4,894.4 2173.7,892.9 2179.5,893.5 2185.3,893.5 2189.6,892.4 2194.0,887.7 2198.3,895.8 2202.1,894.4 2206.1,883.7 2209.9,885.7 2213.6,894.4 2217.7,886.6 2221.5,890.0 2225.8,892.4 2229.3,888.6 2233.0,896.4 2237.4,888.6 2241.7,887.1 2246.1,886.6 2249.0,885.7 2252.4,896.4 2256.2,887.1 2260.0,893.5 2260.0,892.9 2263.5,889.5 2267.2,897.3 2271.6,892.9 2277.4,892.4 2283.2,890.6 2289.0,888.6 2294.2,887.1 2298.2,885.7 2302.0,889.5 2306.3,888.6 2312.1,889.5 2317.9,890.6 2323.7,891.5 2329.5,891.5 2333.0,896.4 2336.7,890.0 2341.1,893.5 2345.4,895.8 2349.8,892.4 2354.1,890.0 2358.4,891.5 2362.8,897.3 2366.5,892.4 2371.5,894.4 2375.8,893.5 2380.0,895.3 2384.3,898.1 2388.7,895.8 2393.0,887.1 2397.4,892.9 2400.8,895.3 2405.5,886.6 2410.4,889.5 2414.7,895.8 2419.1,892.9 2422.8,897.3 2426.3,891.5 2432.1,890.0 2437.9,889.5 2442.2,889.5 2446.6,890.6 2450.9,891.5 2455.3,892.4 2459.6,892.9 2464.0,897.3 2467.1,895.3"/>
</g>
<g stroke="#000" stroke-width="3.8" fill="none">
<path d="M896.4,870.9H920.2M908.3,859.0V882.8M899.9,862.5L916.7,879.3M899.9,879.3L916.7,862.5"/>
<path d="M1450.1,892.0H1473.9M1462.0,880.1V903.9M1453.6,883.6L1470.4,900.4M1453.6,900.4L1470.4,883.6"/>
<path d="M1454.1,886.0H1477.9M1466.0,874.1V897.9M1457.6,877.6L1474.4,894.4M1457.6,894.4L1474.4,877.6"/>
<path d="M1458.1,892.0H1481.9M1470.0,880.1V903.9M1461.6,883.6L1478.4,900.4M1461.6,900.4L1478.4,883.6"/>
<path d="M1456.1,897.0H1479.9M1468.0,885.1V908.9M1459.6,888.6L1476.4,905.4M1459.6,905.4L1476.4,888.6"/>
<path d="M1461.1,886.0H1484.9M1473.0,874.1V897.9M1464.6,877.6L1481.4,894.4M1464.6,894.4L1481.4,877.6"/>
<path d="M445.6,868.0H469.4M457.5,856.1V879.9M449.1,859.6L465.9,876.4M449.1,876.4L465.9,859.6"/>
<path d="M324.2,852.4H348.0M336.1,840.5V864.3M327.7,844.0L344.5,860.8M327.7,860.8L344.5,844.0"/>
<path d="M576.9,883.7H600.7M588.8,871.8V895.6M580.4,875.3L597.2,892.1M580.4,892.1L597.2,875.3"/>
<path d="M632.8,864.0H656.6M644.7,852.1V875.9M636.3,855.6L653.1,872.4M636.3,872.4L653.1,855.6"/>
<path d="M640.1,875.6H663.9M652.0,863.7V887.5M643.6,867.2L660.4,884.0M643.6,884.0L660.4,867.2"/>
<path d="M647.3,866.9H671.1M659.2,855.0V878.8M650.8,858.5L667.6,875.3M650.8,875.3L667.6,858.5"/>
<path d="M654.6,869.8H678.4M666.5,857.9V881.7M658.1,861.4L674.9,878.2M658.1,878.2L674.9,861.4"/>
<path d="M663.2,877.0H687.0M675.1,865.1V888.9M666.7,868.6L683.5,885.4M666.7,885.4L683.5,868.6"/>
<path d="M660.3,891.5H684.1M672.2,879.6V903.4M663.8,883.1L680.6,899.9M663.8,899.9L680.6,883.1"/>
<path d="M682.1,879.9H705.9M694.0,868.0V891.8M685.6,871.5L702.4,888.3M685.6,888.3L702.4,871.5"/>
<path d="M704.6,848.1H728.4M716.5,836.2V860.0M708.1,839.7L724.9,856.5M708.1,856.5L724.9,839.7"/>
<path d="M768.9,862.5H792.7M780.8,850.6V874.4M772.4,854.1L789.2,870.9M772.4,870.9L789.2,854.1"/>
<path d="M876.9,892.9H900.7M888.8,881.0V904.8M880.4,884.5L897.2,901.3M880.4,901.3L897.2,884.5"/>
<path d="M887.1,887.1H910.9M899.0,875.2V899.0M890.6,878.7L907.4,895.5M890.6,895.5L907.4,878.7"/>
<path d="M909.7,882.8H933.5M921.6,870.9V894.7M913.2,874.4L930.0,891.2M913.2,891.2L930.0,874.4"/>
<path d="M926.5,869.8H950.3M938.4,857.9V881.7M930.0,861.4L946.8,878.2M930.0,878.2L946.8,861.4"/>
<path d="M942.1,881.9H965.9M954.0,870.0V893.8M945.6,873.5L962.4,890.3M945.6,890.3L962.4,873.5"/>
<path d="M974.0,888.6H997.8M985.9,876.7V900.5M977.5,880.2L994.3,897.0M977.5,897.0L994.3,880.2"/>
<path d="M996.5,875.6H1020.3M1008.4,863.7V887.5M1000.0,867.2L1016.8,884.0M1000.0,884.0L1016.8,867.2"/>
<path d="M1033.6,872.7H1057.4M1045.5,860.8V884.6M1037.1,864.3L1053.9,881.1M1037.1,881.1L1053.9,864.3"/>
<path d="M1071.8,866.9H1095.6M1083.7,855.0V878.8M1075.3,858.5L1092.1,875.3M1075.3,875.3L1092.1,858.5"/>
<path d="M1106.6,866.3H1130.4M1118.5,854.4V878.2M1110.1,857.9L1126.9,874.7M1110.1,874.7L1126.9,857.9"/>
<path d="M1172.0,860.5H1195.8M1183.9,848.6V872.4M1175.5,852.1L1192.3,868.9M1175.5,868.9L1192.3,852.1"/>
<path d="M1259.5,866.3H1283.3M1271.4,854.4V878.2M1263.0,857.9L1279.8,874.7M1263.0,874.7L1279.8,857.9"/>
<path d="M1335.6,848.9H1359.4M1347.5,837.0V860.8M1339.1,840.5L1355.9,857.3M1339.1,857.3L1355.9,840.5"/>
<path d="M1414.7,869.2H1438.5M1426.6,857.3V881.1M1418.2,860.8L1435.0,877.6M1418.2,877.6L1435.0,860.8"/>
<path d="M1447.1,865.4H1470.9M1459.0,853.5V877.3M1450.6,857.0L1467.4,873.8M1450.6,873.8L1467.4,857.0"/>
<path d="M1479.8,868.3H1503.6M1491.7,856.4V880.2M1483.3,859.9L1500.1,876.7M1483.3,876.7L1500.1,859.9"/>
<path d="M1512.0,864.6H1535.8M1523.9,852.7V876.5M1515.5,856.2L1532.3,873.0M1515.5,873.0L1532.3,856.2"/>
<path d="M1547.9,867.5H1571.7M1559.8,855.6V879.4M1551.4,859.1L1568.2,875.9M1551.4,875.9L1568.2,859.1"/>
</g>
<rect x="164.4" y="571.5" width="2302.9" height="334.20000000000005" fill="none" stroke="#262626" stroke-width="2"/>
<path d="M625.0,905.7V882.7M625.0,571.5V594.5M1085.6,905.7V882.7M1085.6,571.5V594.5M1546.1,905.7V882.7M1546.1,571.5V594.5M2006.7,905.7V882.7M2006.7,571.5V594.5M164.4,794.3H187.4M2467.3,794.3H2444.3M164.4,682.9H187.4M2467.3,682.9H2444.3" stroke="#262626" stroke-width="2" fill="none"/>
<text x="153" y="919.7" text-anchor="end" font-size="39.5" fill="#262626">0</text>
<text x="153" y="808.3" text-anchor="end" font-size="39.5" fill="#262626">10</text>
<text x="153" y="696.9" text-anchor="end" font-size="39.5" fill="#262626">20</text>
<text x="153" y="585.5" text-anchor="end" font-size="39.5" fill="#262626">30</text>
<g transform="translate(38,738.6) rotate(-90)" fill="#262626" font-size="43.5" text-anchor="middle"><text x="0" y="0" transform="scale(1,1.04)">Ripple Height</text><text x="0" y="53" transform="scale(1,1.04)">(cm)</text></g>
<text x="4.5" y="525" font-size="57.5" fill="#000">B</text>
<rect x="2199.5" y="590.8" width="236.3" height="149" fill="#fff" stroke="#262626" stroke-width="2"/>
<line x1="2215" x2="2333.5" y1="620.6" y2="620.6" stroke="#bf0000" stroke-width="4"/>
<text x="2345" y="635.1" font-size="36" fill="#000">W-H</text>
<line x1="2215" x2="2333.5" y1="665.8" y2="665.8" stroke="#0000bf" stroke-width="4"/>
<text x="2345" y="680.3" font-size="36" fill="#000">OD</text>
<line x1="2215" x2="2333.5" y1="711.0" y2="711.0" stroke="#00bf00" stroke-width="4"/>
<text x="2345" y="725.5" font-size="36" fill="#000">S-G</text>
<text x="164.4" y="955" text-anchor="middle" font-size="39.5" fill="#262626">145</text>
<text x="625.0" y="955" text-anchor="middle" font-size="39.5" fill="#262626">150</text>
<text x="1085.6" y="955" text-anchor="middle" font-size="39.5" fill="#262626">155</text>
<text x="1546.1" y="955" text-anchor="middle" font-size="39.5" fill="#262626">160</text>
<text x="2006.7" y="955" text-anchor="middle" font-size="39.5" fill="#262626">165</text>
<text x="2467.3" y="955" text-anchor="middle" font-size="39.5" fill="#262626">170</text>
<text x="1315.9" y="1007.6" text-anchor="middle" font-size="43.6" fill="#262626">Year Day (2016)</text>
</svg>
</body></html>
